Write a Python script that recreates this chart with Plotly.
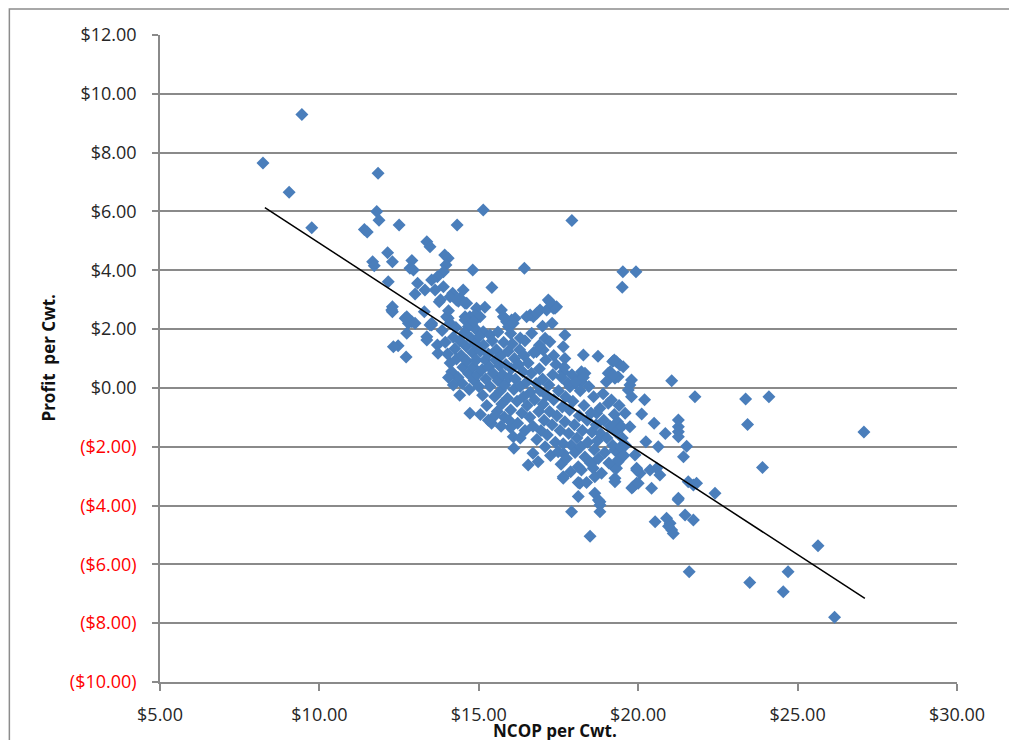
import plotly.graph_objects as go

# NCOP per Cwt. (x) and Profit per Cwt. (y), row by row
ncop = [
    8.23, 9.05, 9.45, 9.76, 11.84, 11.80, 11.87, 11.41, 11.50, 12.50,
    14.32, 15.14, 17.92, 14.81, 16.43, 15.41, 19.52, 19.93, 19.50, 13.37,
    13.47, 12.14, 12.29, 11.67, 11.72, 12.90, 12.84, 12.95, 13.93, 14.04,
    13.97, 13.89, 13.70, 13.52, 13.08, 13.31, 13.00, 12.16, 12.29, 12.29,
    12.74, 12.90, 13.89, 14.18, 14.41, 14.51, 14.62, 14.57, 14.04, 13.76,
    13.52, 13.29, 13.63, 13.80, 14.10, 14.36, 14.93, 15.19, 14.72, 14.88,
    15.04, 14.57, 14.67, 14.78, 14.93, 15.14, 15.35, 15.71, 15.77, 15.87,
    16.03, 16.14, 15.93, 16.61, 16.71, 16.82, 16.92, 17.18, 17.34, 17.44,
    16.66, 17.08, 17.70, 12.74, 12.79, 12.74, 13.47, 13.37, 13.99, 14.10,
    12.47, 12.72, 13.70, 13.72, 13.37, 12.27, 12.69, 13.00, 12.32, 13.52,
    14.30, 14.57, 14.83, 15.82, 16.08, 16.50, 17.13, 17.39, 17.23, 17.23,
    17.65, 18.28, 17.70, 16.81, 17.02, 14.72, 15.40, 16.08, 16.55, 17.65,
    19.20, 19.37, 19.12, 17.65, 19.32, 19.43, 19.53, 19.06, 19.27, 19.79,
    19.74, 19.69, 19.79, 21.05, 21.78, 23.37, 24.10, 23.43, 23.90, 27.08,
    18.22, 18.33, 17.86, 18.02, 18.12, 18.22, 20.11, 19.74, 21.26, 21.26,
    21.26, 21.26, 20.24, 20.63, 21.52, 19.90, 21.42, 19.32, 19.37, 19.22,
    19.95, 20.06, 19.95, 20.58, 20.68, 20.42, 21.57, 21.73, 21.83, 22.41,
    21.26, 19.80, 18.17, 18.12, 18.64, 18.75, 18.80, 18.80, 17.91, 20.53,
    20.89, 21.00, 21.05, 21.47, 21.73, 18.49, 17.65, 18.54, 19.84, 20.00,
    20.37, 19.95, 19.27, 21.25, 21.60, 23.50, 24.70, 24.55, 25.64, 26.16,
    18.74, 19.25, 17.00, 17.30, 15.60, 16.30, 16.00, 20.95, 21.10, 18.80,
    13.85, 13.95, 14.02, 14.10, 14.05, 14.15, 14.20, 14.25, 14.30, 14.35,
    14.28, 14.40, 14.45, 14.50, 14.48, 14.55, 14.60, 14.62, 14.68, 14.70,
    14.75, 14.80, 14.82, 14.85, 14.90, 14.92, 14.95, 15.00, 15.02, 15.05,
    15.10, 15.12, 15.15, 15.20, 15.22, 15.25, 15.30, 15.32, 15.35, 15.42,
    15.45, 15.50, 15.52, 15.55, 15.58, 15.60, 15.65, 15.68, 15.70, 15.72,
    15.75, 15.78, 15.80, 15.82, 15.85, 15.90, 15.92, 15.95, 16.00, 16.02,
    16.05, 16.10, 16.12, 16.15, 16.20, 16.22, 16.25, 16.28, 16.30, 16.35,
    16.38, 16.40, 16.42, 16.45, 16.50, 16.52, 16.55, 16.60, 16.62, 16.65,
    16.70, 16.70, 16.72, 16.75, 16.80, 16.82, 16.86, 16.88, 16.90, 16.92,
    16.95, 17.00, 17.02, 17.05, 17.08, 17.10, 17.12, 17.15, 17.20, 17.22,
    17.25, 17.30, 17.32, 17.35, 17.40, 17.42, 17.45, 17.49, 17.50, 17.55,
    17.58, 17.60, 17.62, 17.65, 17.65, 17.68, 17.70, 17.72, 17.75, 17.80,
    17.82, 17.85, 17.88, 17.90, 17.92, 17.95, 18.00, 18.02, 18.05, 18.08,
    18.12, 18.12, 18.15, 18.18, 18.20, 18.22, 18.25, 18.28, 18.30, 18.33,
    18.38, 18.40, 18.42, 18.45, 18.50, 18.52, 18.55, 18.59, 18.60, 18.62,
    18.64, 18.68, 18.70, 18.72, 18.75, 18.80, 18.82, 18.85, 18.90, 18.92,
    18.95, 19.00, 19.02, 19.06, 19.08, 19.12, 19.16, 19.20, 19.22, 19.25,
    19.27, 19.27, 19.30, 19.32, 19.35, 19.37, 19.40, 19.45, 19.48, 19.50,
    19.55, 19.59, 19.60, 14.05, 14.20, 14.40, 15.50, 15.70, 16.00, 15.95,
    16.45, 16.90, 17.35, 16.10, 16.30, 15.05, 15.30, 20.20, 20.50, 20.85,
]
profit = [
    7.65, 6.65, 9.30, 5.45, 7.30, 6.00, 5.70, 5.39, 5.30, 5.54,
    5.54, 6.05, 5.69, 4.01, 4.07, 3.41, 3.95, 3.95, 3.42, 4.97,
    4.80, 4.60, 4.29, 4.29, 4.15, 4.33, 4.07, 4.01, 4.52, 4.41,
    4.18, 3.95, 3.78, 3.67, 3.56, 3.33, 3.19, 3.61, 2.76, 2.59,
    2.37, 2.25, 3.44, 3.22, 3.05, 3.33, 2.88, 2.42, 2.37, 2.93,
    2.14, 2.59, 3.33, 3.00, 3.10, 2.95, 2.71, 2.74, 2.42, 2.48,
    2.42, 2.31, 2.08, 2.14, 1.97, 1.91, 1.80, 2.65, 2.42, 2.25,
    2.31, 2.37, 2.08, 2.48, 2.42, 2.54, 2.65, 2.99, 2.71, 2.76,
    1.86, 1.69, 1.80, 2.42, 2.20, 1.86, 2.14, 1.74, 2.42, 2.20,
    1.43, 1.05, 1.46, 1.18, 1.63, 2.65, 2.37, 2.20, 1.40, 2.20,
    2.99, 2.88, 2.25, 2.37, 2.20, 2.42, 2.65, 2.71, 2.93, 1.57,
    1.40, 1.12, 1.00, 1.23, 1.29, -0.86, -1.20, -1.66, -2.62, -3.02,
    0.90, 0.38, 0.55, 0.55, 0.89, 0.78, 0.72, 0.50, 0.33, 0.27,
    0.10, -0.07, -0.30, 0.24, -0.30, -0.38, -0.30, -1.24, -2.71, -1.50,
    0.55, 0.50, 0.04, 0.16, 0.27, 0.21, -0.89, -1.32, -1.09, -1.32,
    -1.49, -1.66, -1.83, -2.00, -1.98, -2.28, -2.34, -2.17, -2.51, -2.68,
    -2.73, -2.90, -3.24, -2.73, -2.96, -3.41, -3.19, -3.30, -3.24, -3.58,
    -3.75, -3.40, -3.24, -3.69, -3.58, -3.81, -3.98, -4.21, -4.21, -4.55,
    -4.43, -4.60, -4.83, -4.32, -4.49, -5.04, -2.22, -2.56, -3.36, -3.24,
    -2.79, -2.79, -2.11, -3.80, -6.25, -6.62, -6.25, -6.93, -5.37, -7.80,
    1.08, 0.95, 2.10, 2.20, 1.90, 1.70, 1.85, -4.70, -4.95, -3.87,
    1.95, 1.55, 1.15, 0.85, 2.62, 0.55, 1.72, 1.33, 0.98, 0.35,
    2.05, 1.60, 1.10, 0.70, 0.15, 1.88, 1.42, 0.92, 0.48, -0.05,
    1.70, 1.20, 0.72, 0.25, 1.50, 0.95, 0.45, 0.05, 1.75, 1.25,
    0.62, -0.25, 1.45, 0.95, 0.30, -0.60, 1.15, 0.72, 0.05, 1.60,
    0.50, -0.30, 0.95, 1.30, -0.80, 0.25, 0.75, -0.10, 1.10, -0.55,
    0.45, 1.55, -1.00, 0.10, 0.80, -0.35, 1.25, 0.35, -0.75, 0.65,
    1.50, -0.05, 1.00, 0.30, -0.45, -1.20, 0.80, 1.30, 0.05, -0.85,
    0.55, -0.30, 1.10, -1.45, 0.20, -0.60, 0.85, -1.00, -0.15, 0.50,
    -2.22, -1.30, 1.20, -0.40, 0.15, -1.75, -2.51, -0.80, 0.65, -0.10,
    -1.45, 0.30, -0.55, -1.10, -2.00, 0.95, -0.25, -1.60, 0.10, -0.80,
    -2.30, -1.25, 0.45, -0.40, -1.85, 0.80, -0.95, -2.17, -0.10, -1.45,
    -2.60, 0.35, -0.65, -3.07, -1.90, 0.70, -1.15, -0.30, -2.40, 0.15,
    -1.55, -0.75, -2.85, -1.95, 0.45, -0.45, -1.25, -2.20, 0.20, -1.70,
    -2.68, -3.22, -0.95, -0.10, -2.00, -2.79, -1.45, 0.35, -0.60, -2.35,
    -3.22, -1.10, -1.85, 0.05, -2.55, -0.85, -1.50, -2.73, -0.30, -2.10,
    -3.02, -1.25, -0.86, -1.80, -2.40, -0.69, -1.55, -2.90, -0.20, -1.10,
    -2.20, 0.21, -1.70, -0.52, -2.55, -1.30, -0.41, -1.95, 0.44, -0.90,
    -3.07, -3.19, -1.50, -2.73, -1.15, -2.45, -0.60, -2.00, -1.32, -1.70,
    -2.30, -0.86, -1.95, 0.35, 0.10, -0.25, -0.95, -1.30, -1.35, -1.10,
    1.60, 1.45, 1.10, -2.05, -1.70, -0.90, -1.10, -0.40, -1.20, -1.55,
]

# linear trend line end points as drawn
trend_x = [8.29, 27.11]
trend_y = [6.13, -7.16]

y_ticks = [12, 10, 8, 6, 4, 2, 0, -2, -4, -6, -8, -10]
y_labels = ['$12.00', '$10.00', '$8.00', '$6.00', '$4.00', '$2.00', '$0.00',
            '($2.00)', '($4.00)', '($6.00)', '($8.00)', '($10.00)']
x_ticks = [5, 10, 15, 20, 25, 30]
x_labels = ['$5.00', '$10.00', '$15.00', '$20.00', '$25.00', '$30.00']

# negative values shown in red, Excel style
y_text = []
for v, lab in zip(y_ticks, y_labels):
    if v < 0:
        y_text.append('<span style="color:#ff0000">' + lab + '</span>')
    else:
        y_text.append(lab)

fig = go.Figure()
fig.add_trace(go.Scatter(
    x=ncop, y=profit, mode='markers',
    marker=dict(symbol='diamond', size=10, color='#4a7ebb', line=dict(width=0)),
    showlegend=False,
))
fig.add_trace(go.Scatter(
    x=trend_x, y=trend_y, mode='lines',
    line=dict(color='#000000', width=1.5),
    showlegend=False,
))

font_name = 'Open Sans'
grid = '#8a8a8a'
# the page puts the figure 8px in from the corner, margins allow for that
fig.update_layout(
    width=1017, height=740,
    margin=dict(l=152, r=68, t=27, b=66),
    paper_bgcolor='white', plot_bgcolor='white',
    font=dict(family=font_name, size=18, color='#262626'),
    xaxis=dict(
        range=[5, 30], tickvals=x_ticks, ticktext=x_labels,
        showgrid=False, zeroline=False,
        showline=True, linecolor=grid, linewidth=1.5,
        ticks='outside', ticklen=7, tickcolor=grid, tickwidth=1.5,
        ticklabelstandoff=9,
    ),
    yaxis=dict(
        range=[-10, 12], tickvals=y_ticks, ticktext=y_text,
        showgrid=True, gridcolor=grid, gridwidth=1.5, zeroline=False,
        showline=True, linecolor=grid, linewidth=1.5,
        ticks='outside', ticklen=6, tickcolor=grid, tickwidth=1.5,
        ticklabelstandoff=12,
    ),
    annotations=[
        dict(text='<b>NCOP per Cwt.</b>', xref='paper', yref='paper',
             x=0.495, y=-0.075, xanchor='center', yanchor='middle',
             showarrow=False,
             font=dict(family=font_name, size=17, color='#111111')),
        dict(text='<b>Profit  per Cwt.</b>', xref='paper', yref='paper',
             x=-0.1405, y=0.5, xanchor='center', yanchor='middle',
             showarrow=False, textangle=-90,
             font=dict(family=font_name, size=17, color='#111111')),
    ],
    shapes=[
        dict(type='rect', xref='paper', yref='paper',
             x0=-0.189, x1=1.073, y0=-0.12, y1=1.040,
             line=dict(color='#8c8c8c', width=1.5), layer='below'),
    ],
)

fig.write_html('out.html')
